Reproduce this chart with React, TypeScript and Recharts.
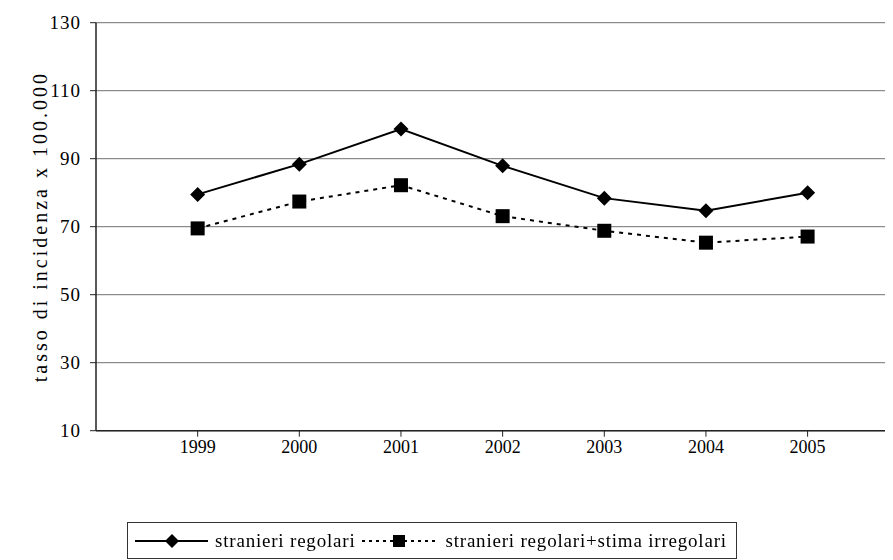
import React from 'react';
import { LineChart, Line, XAxis, YAxis, CartesianGrid } from 'recharts';

const years = [1999, 2000, 2001, 2002, 2003, 2004, 2005];
const regolari = [79.5, 88.4, 98.7, 87.9, 78.4, 74.7, 80.0];
const conIrregolari = [69.5, 77.4, 82.2, 73.1, 68.8, 65.3, 67.1];
const yTicks = [10, 30, 50, 70, 90, 110, 130];
const seriesNames = ['stranieri regolari', 'stranieri regolari+stima irregolari'];
const yLabel = 'tasso di incidenza x 100.000';

const data = years.map((y, i) => ({ year: y, a: regolari[i], b: conIrregolari[i] }));

const FONT = '"Liberation Serif", "Times New Roman", serif';

const Diamond = (props: any) => {
  const { cx, cy, index } = props;
  if (cx == null || cy == null) return null;
  const r = 7.5;
  return (
    <path key={`d${index}`} d={`M${cx},${cy - r} L${cx + r},${cy} L${cx},${cy + r} L${cx - r},${cy} Z`} fill="#000" />
  );
};

const Square = (props: any) => {
  const { cx, cy, index } = props;
  if (cx == null || cy == null) return null;
  const r = 7;
  return <rect key={`s${index}`} x={cx - r} y={cy - r} width={2 * r} height={2 * r} fill="#000" />;
};

const YLabel = (props: any) => {
  const vb = props.viewBox || {};
  const x = (vb.x ?? 0) + 32;
  const y = (vb.y ?? 0) + (vb.height ?? 0) / 2;
  return (
    <text
      x={x}
      y={y}
      transform={`rotate(-90 ${x} ${y})`}
      textAnchor="middle"
      dominantBaseline="central"
      fontFamily={FONT}
      fontSize={20}
      letterSpacing={3}
      fill="#000"
    >
      {yLabel}
    </text>
  );
};

export default function App() {
  return (
    <div style={{ position: 'relative', width: 885, height: 470 }}>
      <LineChart
        width={885}
        height={470}
        data={data}
        margin={{ top: 14.7, right: 0, left: 0, bottom: 7.3 }}
      >
        <CartesianGrid vertical={false} stroke="#707070" strokeWidth={1} />
        <XAxis
          dataKey="year"
          type="number"
          domain={[1998, 2005.84]}
          ticks={years}
          height={40}
          tickSize={6}
          tickMargin={4}
          axisLine={{ stroke: '#222', strokeWidth: 1.5 }}
          tickLine={{ stroke: '#222' }}
          tick={{ fontFamily: FONT, fontSize: 18, fill: '#000' }}
          allowDataOverflow
        />
        <YAxis
          type="number"
          domain={[10, 130]}
          ticks={yTicks}
          width={88}
          tickSize={6}
          tickMargin={9}
          axisLine={{ stroke: '#222', strokeWidth: 1.5 }}
          tickLine={{ stroke: '#222' }}
          tick={{ fontFamily: FONT, fontSize: 19, fill: '#000', letterSpacing: 1 }}
          label={<YLabel />}
        />
        <Line
          dataKey="a"
          name={seriesNames[0]}
          stroke="#000"
          strokeWidth={2}
          dot={<Diamond />}
          activeDot={false}
          isAnimationActive={false}
        />
        <Line
          dataKey="b"
          name={seriesNames[1]}
          stroke="#000"
          strokeWidth={2}
          strokeDasharray="4 5"
          dot={<Square />}
          activeDot={false}
          isAnimationActive={false}
        />
      </LineChart>
      <div
        style={{
          position: 'fixed',
          left: 127,
          top: 522,
          width: 610,
          height: 37,
          border: '1px solid #333',
          boxSizing: 'border-box',
          display: 'flex',
          alignItems: 'center',
          fontFamily: FONT,
          fontSize: 19,
          letterSpacing: 0.8,
          color: '#000',
          whiteSpace: 'nowrap',
          paddingLeft: 7,
        }}
      >
        <svg width={73} height={20} style={{ display: 'block', flex: 'none' }}>
          <line x1={0} y1={10} x2={73} y2={10} stroke="#000" strokeWidth={2} />
          <path d="M37,3 L44,10 L37,17 L30,10 Z" fill="#000" />
        </svg>
        <span style={{ marginLeft: 7 }}>{seriesNames[0]}</span>
        <svg width={77} height={20} style={{ display: 'block', marginLeft: 7, flex: 'none' }}>
          <line x1={0} y1={10} x2={77} y2={10} stroke="#000" strokeWidth={2} strokeDasharray="3 4" />
          <rect x={31} y={4} width={12} height={12} fill="#000" />
        </svg>
        <span style={{ marginLeft: 6 }}>{seriesNames[1]}</span>
      </div>
    </div>
  );
}
